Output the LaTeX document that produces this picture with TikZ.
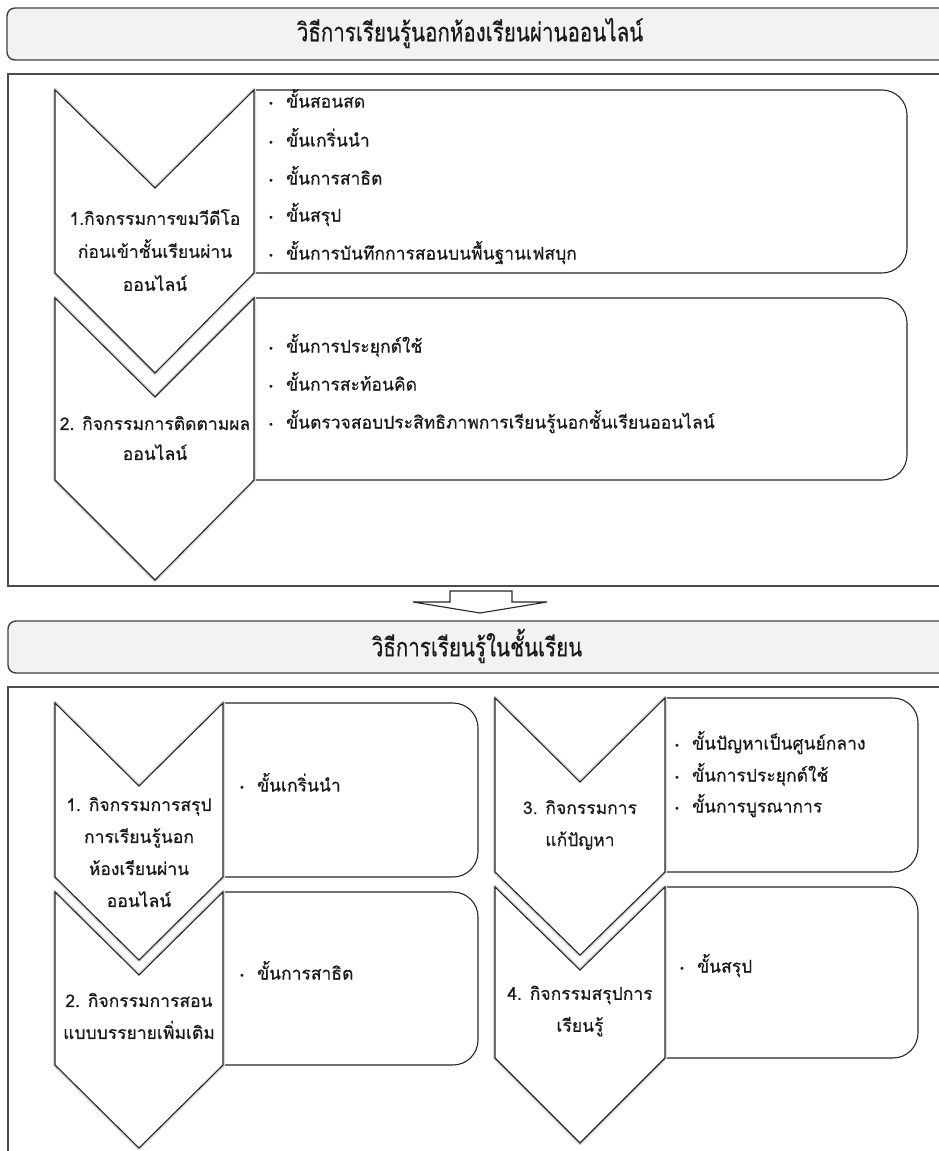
\documentclass[tikz,border=0pt]{standalone}
\usepackage{fontspec}
\setmainfont[Script=Thai,FakeBold=0.4]{Loma}
\newfontfamily\symf{DejaVu Sans}
\newcommand{\bul}{{\symf\fontsize{10}{10}\selectfont •}\hspace{12pt}}
\begin{document}
\begin{tikzpicture}[x=1pt,y=-1pt,
  line/.style={draw=black!85, line width=1.1pt},
  frame/.style={draw=black!70, line width=1.3pt},
  header/.style={draw=black!75, line width=1.4pt, fill=black!5, rounded corners=8pt},
  chev/.style={draw=black!85, line width=1.1pt, fill=white, line join=miter},
  glow/.style={draw=black!15, line width=4pt, line join=round},
  item/.style={anchor=west, inner sep=0pt, text=black!90, font=\fontsize{17.5}{20}\selectfont, text height=14pt, text depth=5pt},
  lab/.style={align=center, inner sep=0pt, text=black!90, font=\fontsize{17.5}{32}\selectfont},
  title/.style={inner sep=0pt, text=black!90, font=\fontsize{26}{30}\selectfont, xscale=0.79}
]
\useasboundingbox (0,0) rectangle (939,1151);
\clip (0,0) rectangle (939,1151);

% ---------- headers and frames
\draw[header] (7,8) rectangle (975,60);
\node[title] (t1) at (470,33) {วิธีการเรียนรู้นอกห้องเรียนผ่านออนไลน์};
\draw[frame] (8,74) rectangle (975,586);

\draw[header] (8,621) rectangle (975,673);
\node[title] (t2) at (477,646) {วิธีการเรียนรู้ในชั้นเรียน};
\draw[frame] (8,687) rectangle (975,1175);

% ---------- block arrow between sections
\draw[line, fill=white, line join=miter] (450,591) -- (512,591) -- (512,602) -- (547,602) -- (480,613) -- (413,602) -- (450,602) -- cycle;

% ---------- top section boxes
\draw[line, rounded corners=25pt] (254,90) -- (907,90) -- (907,273) -- (254,273);
\draw[line, rounded corners=25pt] (254,298) -- (907,298) -- (907,480) -- (254,480);

% chevrons top
\draw[glow] (55,298) -- (155,397) -- (254,298) -- (254,480) -- (155,580) -- (55,480) -- cycle;
\draw[chev] (55,298) -- (155,397) -- (254,298) -- (254,480) -- (155,580) -- (55,480) -- cycle;
\draw[glow] (55,90) -- (155,188) -- (254,90) -- (254,273) -- (155,373) -- (55,273) -- cycle;
\draw[chev] (55,90) -- (155,188) -- (254,90) -- (254,273) -- (155,373) -- (55,273) -- cycle;

\node[lab, font=\fontsize{17.5}{33}\selectfont] (c1) at (155,250) {1.กิจกรรมการขมวีดีโอ\\ก่อนเข้าชั้นเรียนผ่าน\\ออนไลน์};
\node[lab, font=\fontsize{17.5}{30}\selectfont] (c2) at (155,438) {2. กิจกรรมการติดตามผล\\ออนไลน์};

\node[item] (a1) at (268,103) {\bul ขั้นสอนสด};
\node[item] (a2) at (268,142) {\bul ขั้นเกริ่นนำ};
\node[item] (a3) at (268,180) {\bul ขั้นการสาธิต};
\node[item] (a4) at (268,217) {\bul ขั้นสรุป};
\node[item] (a5) at (268,255) {\bul ขั้นการบันทึกการสอนบนพื้นฐานเฟสบุก};

\node[item] (b1) at (268,348) {\bul ขั้นการประยุกต์ใช้};
\node[item] (b2) at (268,386) {\bul ขั้นการสะท้อนคิด};
\node[item] (b3) at (268,424) {\bul ขั้นตรวจสอบประสิทธิภาพการเรียนรู้นอกชั้นเรียนออนไลน์};

% ---------- bottom section boxes
\draw[line, rounded corners=25pt] (223,703) -- (478,703) -- (478,877) -- (223,877);
\draw[line, rounded corners=25pt] (223,892) -- (478,892) -- (478,1065) -- (223,1065);
\draw[line, rounded corners=25pt] (665,698) -- (918,698) -- (918,872) -- (665,872);
\draw[line, rounded corners=25pt] (665,887) -- (918,887) -- (918,1058) -- (665,1058);

% chevrons bottom-left
\draw[glow] (55,892) -- (139,975) -- (223,892) -- (223,1065) -- (139,1148) -- (55,1065) -- cycle;
\draw[chev] (55,892) -- (139,975) -- (223,892) -- (223,1065) -- (139,1148) -- (55,1065) -- cycle;
\draw[glow] (55,703) -- (139,786) -- (223,703) -- (223,877) -- (139,960) -- (55,877) -- cycle;
\draw[chev] (55,703) -- (139,786) -- (223,703) -- (223,877) -- (139,960) -- (55,877) -- cycle;
% chevrons bottom-right
\draw[glow] (495,887) -- (580,970) -- (665,887) -- (665,1058) -- (580,1143) -- (495,1058) -- cycle;
\draw[chev] (495,887) -- (580,970) -- (665,887) -- (665,1058) -- (580,1143) -- (495,1058) -- cycle;
\draw[glow] (495,698) -- (580,782) -- (665,698) -- (665,872) -- (580,955) -- (495,872) -- cycle;
\draw[chev] (495,698) -- (580,782) -- (665,698) -- (665,872) -- (580,955) -- (495,872) -- cycle;

\node[lab] (d1) at (139,852) {1. กิจกรรมการสรุป\\การเรียนรู้นอก\\ห้องเรียนผ่าน\\ออนไลน์};
\node[lab] (d2) at (139,1016) {2. กิจกรรมการสอน\\แบบบรรยายเพิ่มเติม};
\node[lab] (d3) at (580,825) {3. กิจกรรมการ\\แก้ปัญหา};
\node[lab] (d4) at (580,1011) {4. กิจกรรมสรุปการ\\เรียนรู้};

\node[item] (e1) at (239,787) {\bul ขั้นเกริ่นนำ};
\node[item] (e2) at (239,975) {\bul ขั้นการสาธิต};
\node[item] (f1) at (674,745) {\bul ขั้นปัญหาเป็นศูนย์กลาง};
\node[item] (f2) at (674,777) {\bul ขั้นการประยุกต์ใช้};
\node[item] (f3) at (674,808) {\bul ขั้นการบูรณาการ};
\node[item] (f4) at (679,968) {\bul ขั้นสรุป};
\end{tikzpicture}
\end{document}
